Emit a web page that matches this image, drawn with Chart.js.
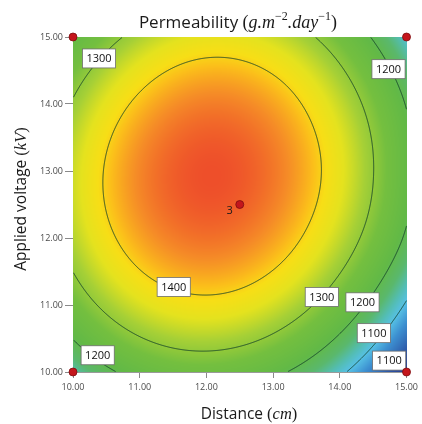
<!DOCTYPE html>
<html>
<head>
<meta charset="utf-8">
<script src="https://cdn.jsdelivr.net/npm/chart.js@4.4.0/dist/chart.umd.min.js"></script>
<style>
  html, body { margin: 0; padding: 0; background: #fff; }
  #wrap { width: 422px; height: 424px; position: relative; }
</style>
</head>
<body>
<div id="wrap"><canvas id="contour-chart"></canvas></div>
<script>
// Factor levels (cm, kV) and the permeability surface on that grid
const distance = [10, 11, 12, 13, 14, 15];
const voltage = [10, 11, 12, 13, 14, 15];
// one row per voltage level, one column per distance level
const permeability = [
  [1132, 1225, 1253, 1216, 1114, 946],
  [1258, 1354, 1385, 1351, 1253, 1092],
  [1329, 1428, 1463, 1432, 1339, 1190],
  [1345, 1448, 1486, 1459, 1369, 1218],
  [1306, 1412, 1454, 1430, 1342, 1196],
  [1212, 1322, 1367, 1346, 1261, 1111]
];
const contourLevels = [1100, 1200, 1300, 1400];
const tickValues = [10, 11, 12, 13, 14, 15];

// design points and their replicate counts
const designDistance = [10, 15, 10, 15, 12.5];
const designVoltage = [10, 10, 15, 15, 12.5];
const designRuns = [1, 1, 1, 1, 3];

// where each contour value is printed
const contourLabels = [
  { level: 1300, x: 10.39, y: 14.68 },
  { level: 1200, x: 14.73, y: 14.52 },
  { level: 1400, x: 11.51, y: 11.27 },
  { level: 1300, x: 13.73, y: 11.12 },
  { level: 1200, x: 14.34, y: 11.04 },
  { level: 1100, x: 14.51, y: 10.58 },
  { level: 1100, x: 14.74, y: 10.17 },
  { level: 1200, x: 10.37, y: 10.25 }
];

// colour ramp, low (blue) to high (red)
const rampValues = [946, 1000, 1060, 1100, 1130, 1165, 1210, 1270, 1320, 1362, 1392, 1412, 1445, 1486];
const rampColors = ['#2a3a8f', '#2d58a8', '#3c8fd0', '#56c0e4', '#53bdb3', '#5ab86c', '#62b946', '#74bf3f',
                    '#a6d036', '#e4e21e', '#f7de16', '#fbbf1a', '#f58b27', '#ee4f2a'];

const FONT = '"Open Sans", "DejaVu Sans", sans-serif';
const MATH = '"Liberation Serif", "DejaVu Serif", serif';

function hexRgb(h) {
  return [parseInt(h.slice(1, 3), 16), parseInt(h.slice(3, 5), 16), parseInt(h.slice(5, 7), 16)];
}
const rampRgb = rampColors.map(hexRgb);

function colourFor(v) {
  if (v <= rampValues[0]) return rampRgb[0];
  const n = rampValues.length;
  if (v >= rampValues[n - 1]) return rampRgb[n - 1];
  let k = 1;
  while (rampValues[k] < v) k++;
  const t = (v - rampValues[k - 1]) / (rampValues[k] - rampValues[k - 1]);
  const a = rampRgb[k - 1], b = rampRgb[k];
  return [a[0] + (b[0] - a[0]) * t, a[1] + (b[1] - a[1]) * t, a[2] + (b[2] - a[2]) * t];
}

// grid node with quadratic extension past the edges
function node(i, j) {
  const ni = voltage.length, nj = distance.length;
  if (j < 0) return 3 * node(i, 0) - 3 * node(i, 1) + node(i, 2);
  if (j > nj - 1) return 3 * node(i, nj - 1) - 3 * node(i, nj - 2) + node(i, nj - 3);
  if (i < 0) return 3 * node(0, j) - 3 * node(1, j) + node(2, j);
  if (i > ni - 1) return 3 * node(ni - 1, j) - 3 * node(ni - 2, j) + node(ni - 3, j);
  return permeability[i][j];
}

function catmull(p0, p1, p2, p3, t) {
  return p1 + 0.5 * t * (p2 - p0 + t * (2 * p0 - 5 * p1 + 4 * p2 - p3 + t * (3 * (p1 - p2) + p3 - p0)));
}

// smooth value of the surface at (distance, voltage)
function surfaceAt(xv, yv) {
  const gx = (xv - distance[0]) / (distance[1] - distance[0]);
  const gy = (yv - voltage[0]) / (voltage[1] - voltage[0]);
  let j = Math.min(Math.floor(gx), distance.length - 2);
  let i = Math.min(Math.floor(gy), voltage.length - 2);
  j = Math.max(j, 0); i = Math.max(i, 0);
  const tx = gx - j, ty = gy - i;
  const rows = [];
  for (let r = -1; r <= 2; r++) {
    rows.push(catmull(node(i + r, j - 1), node(i + r, j), node(i + r, j + 1), node(i + r, j + 2), tx));
  }
  return catmull(rows[0], rows[1], rows[2], rows[3], ty);
}

let fieldCache = null;

const surfacePlugin = {
  id: 'surface',
  beforeDatasetsDraw(chart) {
    const { ctx, chartArea: a, scales: { x, y } } = chart;
    const left = Math.round(a.left), top = Math.round(a.top);
    const w = Math.round(a.right) - left, h = Math.round(a.bottom) - top;

    if (!fieldCache || fieldCache.w !== w || fieldCache.h !== h) {
      const vals = new Float32Array(w * h);
      for (let py = 0; py < h; py++) {
        const yv = y.getValueForPixel(top + py + 0.5);
        for (let px = 0; px < w; px++) {
          vals[py * w + px] = surfaceAt(x.getValueForPixel(left + px + 0.5), yv);
        }
      }
      const off = document.createElement('canvas');
      off.width = w; off.height = h;
      const octx = off.getContext('2d');
      const img = octx.createImageData(w, h);
      for (let k = 0; k < w * h; k++) {
        const c = colourFor(vals[k]);
        img.data[k * 4] = c[0]; img.data[k * 4 + 1] = c[1]; img.data[k * 4 + 2] = c[2]; img.data[k * 4 + 3] = 255;
      }
      octx.putImageData(img, 0, 0);
      fieldCache = { w, h, vals, image: off };
    }
    ctx.save();
    ctx.drawImage(fieldCache.image, left, top);

    // contour lines by marching squares over pixel centres
    const vals = fieldCache.vals;
    ctx.beginPath();
    ctx.rect(left, top, w, h);
    ctx.clip();
    ctx.strokeStyle = 'rgba(18, 62, 40, 0.85)';
    ctx.lineWidth = 1;
    contourLevels.forEach(level => {
      ctx.beginPath();
      for (let py = 0; py < h - 1; py++) {
        for (let px = 0; px < w - 1; px++) {
          const v00 = vals[py * w + px], v10 = vals[py * w + px + 1];
          const v01 = vals[(py + 1) * w + px], v11 = vals[(py + 1) * w + px + 1];
          const pts = [];
          const cx = left + px + 0.5, cy = top + py + 0.5;
          if ((v00 - level) * (v10 - level) < 0) pts.push([cx + (level - v00) / (v10 - v00), cy]);
          if ((v10 - level) * (v11 - level) < 0) pts.push([cx + 1, cy + (level - v10) / (v11 - v10)]);
          if ((v01 - level) * (v11 - level) < 0) pts.push([cx + (level - v01) / (v11 - v01), cy + 1]);
          if ((v00 - level) * (v01 - level) < 0) pts.push([cx, cy + (level - v00) / (v01 - v00)]);
          for (let q = 0; q + 1 < pts.length; q += 2) {
            ctx.moveTo(pts[q][0], pts[q][1]);
            ctx.lineTo(pts[q + 1][0], pts[q + 1][1]);
          }
        }
      }
      ctx.stroke();
    });
    ctx.restore();

    // boxed contour values
    ctx.save();
    ctx.font = '11px ' + FONT;
    ctx.textAlign = 'center';
    ctx.textBaseline = 'middle';
    contourLabels.forEach(l => {
      const cx = x.getPixelForValue(l.x), cy = y.getPixelForValue(l.y);
      const text = String(l.level);
      const bw = ctx.measureText(text).width + 8, bh = 19;
      ctx.fillStyle = '#ffffff';
      ctx.fillRect(cx - bw / 2, cy - bh / 2, bw, bh);
      ctx.strokeStyle = '#6d6d6d';
      ctx.lineWidth = 0.8;
      ctx.strokeRect(cx - bw / 2, cy - bh / 2, bw, bh);
      ctx.fillStyle = '#111';
      ctx.fillText(text, cx, cy + 0.5);
    });
    ctx.restore();
  },
  afterDatasetsDraw(chart) {
    const { ctx, scales: { x, y } } = chart;
    ctx.save();
    ctx.font = '11px ' + FONT;
    ctx.fillStyle = '#1a1a1a';
    ctx.textAlign = 'right';
    ctx.textBaseline = 'middle';
    designRuns.forEach((n, k) => {
      if (n > 1) {
        ctx.fillText(String(n), x.getPixelForValue(designDistance[k]) - 7, y.getPixelForValue(designVoltage[k]) + 6);
      }
    });
    ctx.restore();
  },
  afterDraw(chart) {
    const ctx = chart.ctx;
    ctx.save();
    ctx.fillStyle = '#1a1a1a';
    drawRuns(ctx, [
      { t: 'Permeability ', f: '17px ' + FONT },
      { t: '(', f: '18px ' + MATH },
      { t: 'g.m', f: 'italic 18px ' + MATH },
      { t: '\u22122', f: '12px ' + MATH, dy: -8 },
      { t: '.day', f: 'italic 18px ' + MATH },
      { t: '\u22121', f: '12px ' + MATH, dy: -8 },
      { t: ')', f: '18px ' + MATH }
    ], 238, 28);
    drawRuns(ctx, [
      { t: 'Distance ', f: '15.5px ' + FONT },
      { t: '(', f: '16.5px ' + MATH },
      { t: 'cm', f: 'italic 16.5px ' + MATH },
      { t: ')', f: '16.5px ' + MATH }
    ], 249, 419);
    ctx.translate(26, 199);
    ctx.rotate(-Math.PI / 2);
    drawRuns(ctx, [
      { t: 'Applied voltage ', f: '15.5px ' + FONT },
      { t: '(', f: '16.5px ' + MATH },
      { t: 'kV', f: 'italic 16.5px ' + MATH },
      { t: ')', f: '16.5px ' + MATH }
    ], 0, 0);
    ctx.restore();
  }
};

// text made of differently styled pieces, centred on cx at baseline cy
function drawRuns(ctx, runs, cx, cy) {
  let total = 0;
  runs.forEach(r => { ctx.font = r.f; r.w = ctx.measureText(r.t).width; total += r.w; });
  let xp = cx - total / 2;
  ctx.textAlign = 'left';
  ctx.textBaseline = 'alphabetic';
  runs.forEach(r => {
    ctx.font = r.f;
    ctx.fillText(r.t, xp, cy + (r.dy || 0));
    xp += r.w;
  });
}

const axisStyle = {
  type: 'linear',
  min: 10,
  max: 15,
  afterBuildTicks: s => { s.ticks = tickValues.map(v => ({ value: v })); },
  ticks: {
    callback: v => Number(v).toFixed(2),
    font: { family: FONT, size: 9 },
    color: '#4a4a4a',
    maxRotation: 0
  },
  grid: { drawOnChartArea: false, drawTicks: true, color: '#8a8a8a' },
  border: { display: true, color: '#9a9a9a' }
};

new Chart(document.getElementById('contour-chart'), {
  type: 'scatter',
  data: {
    datasets: [{
      data: designDistance.map((d, k) => ({ x: d, y: designVoltage[k] })),
      pointRadius: 4,
      pointBackgroundColor: '#c4161c',
      pointBorderColor: '#7d0d10',
      pointBorderWidth: 0.8,
      clip: false
    }]
  },
  options: {
    responsive: true,
    maintainAspectRatio: false,
    animation: false,
    devicePixelRatio: 1,
    layout: { padding: { top: 37, right: 14, left: 0, bottom: 0 } },
    plugins: { legend: { display: false }, tooltip: { enabled: false } },
    scales: {
      x: Object.assign({}, axisStyle, {
        ticks: Object.assign({}, axisStyle.ticks, { padding: 4 }),
        grid: Object.assign({}, axisStyle.grid, { tickLength: 6 }),
        afterFit: s => { s.height = 52; }
      }),
      y: Object.assign({}, axisStyle, {
        ticks: Object.assign({}, axisStyle.ticks, { padding: 2 }),
        grid: Object.assign({}, axisStyle.grid, { tickLength: 8 }),
        afterFit: s => { s.width = 73; }
      })
    }
  },
  plugins: [surfacePlugin]
});
</script>
</body>
</html>
